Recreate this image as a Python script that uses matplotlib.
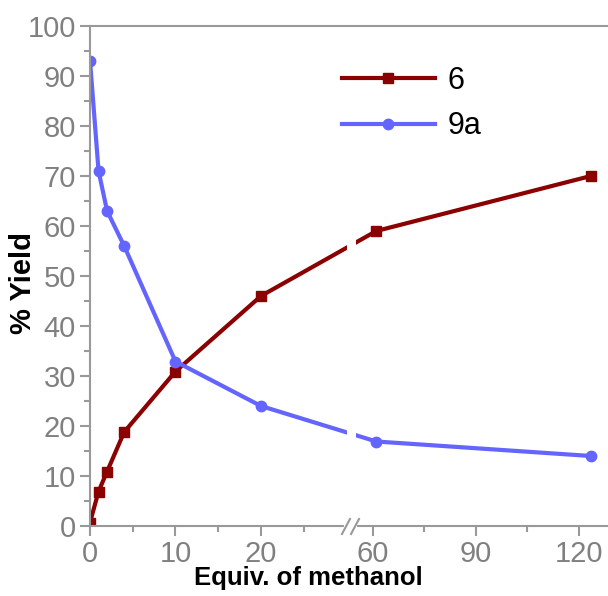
import numpy as np
import matplotlib
matplotlib.use("Agg")
import matplotlib.pyplot as plt

plt.rcParams['font.family'] = ['Liberation Sans', 'DejaVu Sans']

# data
equiv = [0, 1, 2, 4, 10, 20, 61, 123.5]
yield_6 = [0.7, 6.9, 10.9, 18.8, 30.9, 46.0, 59.0, 70.0]
yield_9a = [93.1, 71.0, 63.0, 56.0, 32.9, 24.0, 16.9, 14.0]
series_names = ['6', '9a']

# broken x axis: 0-30 and 54-130 squeezed together
knots_x = [-10, 30.5, 53.6, 200]
knots_u = [-85.5, 260.8, 261.0, 763.6]


def fwd(x):
    return np.interp(x, knots_x, knots_u)


def inv(u):
    return np.interp(u, knots_u, knots_x)


fig = plt.figure(figsize=(6.08, 5.96), dpi=100)
ax = fig.add_axes([90 / 608, 70 / 596, 518 / 608, 500 / 596])
ax.set_xscale('function', functions=(fwd, inv))

red = '#8B0000'
blue = '#6464FF'
ax.plot(equiv, yield_6, color=red, lw=3, marker='s', ms=7.5, label=series_names[0])
ax.plot(equiv, yield_9a, color=blue, lw=3, marker='o', ms=7.5, label=series_names[1])

ax.set_xlim(0, 128.5)
ax.set_ylim(0, 100)

# gap in the lines at the break
ax.axvspan(30.06, 55.05, color='white', zorder=2.2, lw=0)

gray = '#999999'
for s in ['left', 'bottom', 'top']:
    ax.spines[s].set_color(gray)
    ax.spines[s].set_linewidth(1.5)
ax.spines['right'].set_visible(False)

ax.set_xticks([0, 10, 20, 60, 90, 120])
ax.set_xticks([5, 15, 25, 75, 105], minor=True)
ax.set_yticks(np.arange(0, 101, 10))
ax.set_yticks(np.arange(5, 100, 10), minor=True)
ax.tick_params(which='major', length=7, width=1.5, color=gray, labelcolor='#808080',
               labelsize=21, pad=3)
ax.tick_params(which='minor', length=4, width=1.5, color=gray)

# break marks on the x axis
def to_ax(px, py):
    return (px - 90) / 518, (526 - py) / 500

x0, y0 = to_ax(346, 526)
x1, y1 = to_ax(355, 526)
ax.plot([x0, x1], [y0, y1], transform=ax.transAxes, color='white', lw=3,
        clip_on=False, zorder=5)
for dx in [0, 9]:
    a = to_ax(342 + dx, 534)
    b = to_ax(350 + dx, 519)
    ax.plot([a[0], b[0]], [a[1], b[1]], transform=ax.transAxes, color=gray, lw=1.5,
            clip_on=False, zorder=6)

ax.set_xlabel('Equiv. of methanol', fontsize=18.5, fontweight='bold')
ax.xaxis.set_label_coords(0.421, -0.08)
ax.set_ylabel('% Yield', fontsize=21, fontweight='bold')
ax.yaxis.set_label_coords(-0.102, 0.486)

leg = ax.legend(loc='upper left', bbox_to_anchor=(0.433, 0.975), frameon=False,
                fontsize=22, handlelength=3.05, labelspacing=0.5, handletextpad=0.4)

fig.savefig('out.png', dpi=100)
